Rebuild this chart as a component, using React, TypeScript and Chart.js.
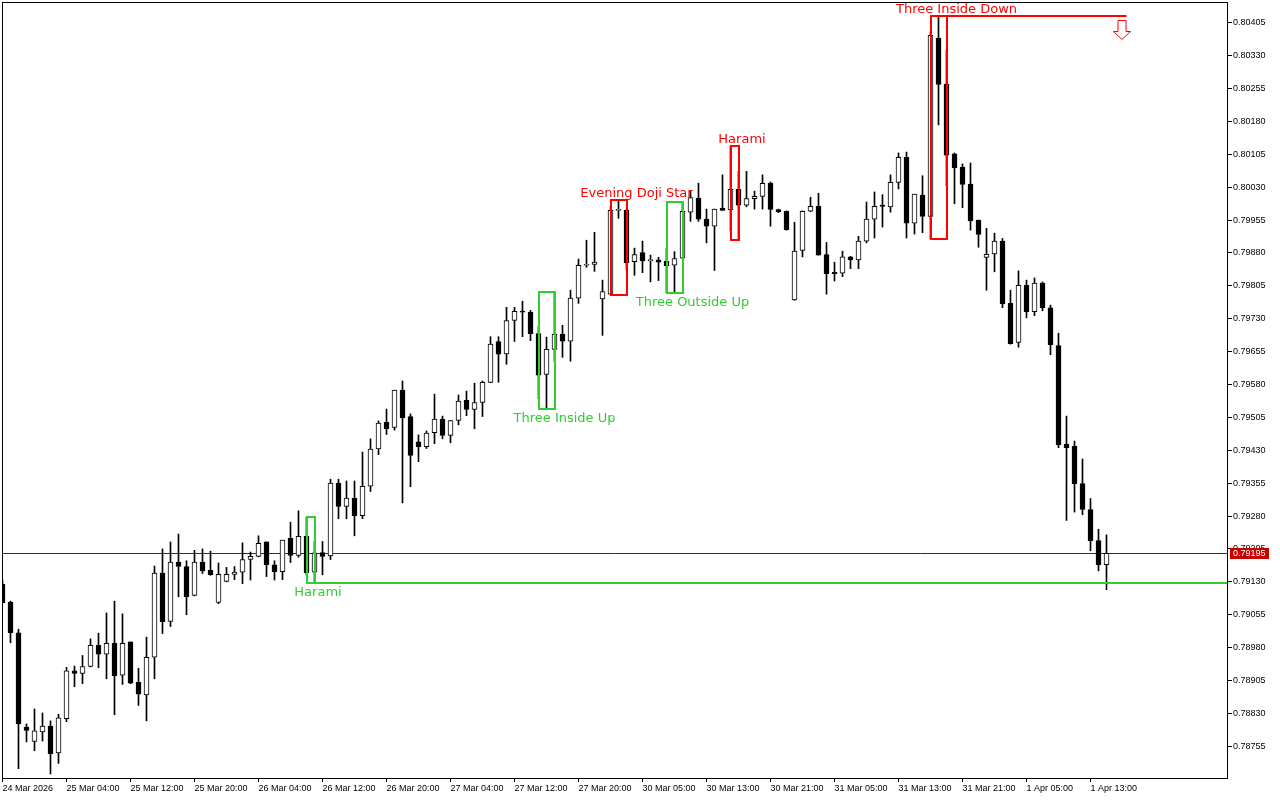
import React, { useEffect, useRef } from "react";
import { Chart, registerables } from "chart.js";

Chart.register(...registerables);

// ---- H1 candles, 24 Mar 20:00 .. 1 Apr 15:00 ----
const opens = [
  0.79125, 0.79084, 0.79014, 0.78799, 0.78766, 0.78788, 0.78801, 0.7874, 0.78818, 0.78927,
  0.78921, 0.78937, 0.78985, 0.78965, 0.7899, 0.78917, 0.78993, 0.78901, 0.78872, 0.78958,
  0.7915, 0.7904, 0.79175, 0.79165, 0.79099, 0.79175, 0.79156, 0.79083, 0.79131, 0.79147,
  0.79152, 0.79181, 0.79188, 0.79221, 0.79169, 0.79153, 0.79229, 0.7919, 0.79234, 0.79152,
  0.79197, 0.79189, 0.79355, 0.79302, 0.79321, 0.79281, 0.79348, 0.79433, 0.79494, 0.79482,
  0.79567, 0.79507, 0.79449, 0.79438, 0.7947, 0.79501, 0.79464, 0.79498, 0.79544, 0.79523,
  0.79539, 0.79585, 0.79678, 0.7965, 0.79726, 0.79747, 0.79745, 0.79696, 0.79603, 0.7966,
  0.79695, 0.79679, 0.79777, 0.79852, 0.79854, 0.79775, 0.79786, 0.79977, 0.79978, 0.7986,
  0.79881, 0.79862, 0.79864, 0.79861, 0.79852, 0.79868, 0.79973, 0.80005, 0.79957, 0.79941,
  0.79982, 0.79978, 0.80025, 0.79989, 0.80004, 0.80009, 0.80039, 0.79979, 0.79975, 0.79773,
  0.79886, 0.79975, 0.79986, 0.79876, 0.79836, 0.79834, 0.79871, 0.79864, 0.79907, 0.79957,
  0.79989, 0.79985, 0.80041, 0.80098, 0.79948, 0.80012, 0.79963, 0.8037, 0.80265, 0.80106,
  0.80075, 0.80037, 0.79955, 0.7987, 0.79878, 0.79907, 0.79765, 0.79676, 0.79806, 0.79746,
  0.79811, 0.79755, 0.79669, 0.79444, 0.79439, 0.79354, 0.79295, 0.79224, 0.79169,
];
const highs = [
  0.79134, 0.79086, 0.79022, 0.78806, 0.7884, 0.78831, 0.78813, 0.78828, 0.78935, 0.78938,
  0.78962, 0.79, 0.79013, 0.79059, 0.79086, 0.79057, 0.78993, 0.78933, 0.79004, 0.79166,
  0.79205, 0.79221, 0.79239, 0.79178, 0.79202, 0.79205, 0.792, 0.79173, 0.79163, 0.79165,
  0.79219, 0.79198, 0.79235, 0.79221, 0.79178, 0.79225, 0.79266, 0.79292, 0.79277, 0.79222,
  0.79222, 0.79364, 0.79364, 0.7936, 0.7936, 0.79426, 0.79456, 0.79497, 0.79524, 0.79567,
  0.79588, 0.79513, 0.79465, 0.79474, 0.79558, 0.79508, 0.79498, 0.79556, 0.79565, 0.79583,
  0.79588, 0.79689, 0.79689, 0.79756, 0.79756, 0.7977, 0.79749, 0.79712, 0.79688, 0.79792,
  0.79715, 0.79795, 0.79866, 0.79909, 0.79927, 0.79818, 0.79985, 0.80001, 0.79979, 0.79891,
  0.79907, 0.79875, 0.7987, 0.79891, 0.79883, 0.79997, 0.80022, 0.80039, 0.7998, 0.7998,
  0.80058, 0.80124, 0.80066, 0.80066, 0.80021, 0.80058, 0.80042, 0.7998, 0.79976, 0.7995,
  0.79976, 0.80007, 0.80016, 0.79904, 0.79859, 0.79884, 0.79872, 0.79918, 0.79996, 0.80019,
  0.80013, 0.80058, 0.80108, 0.8011, 0.80014, 0.80056, 0.80384, 0.80421, 0.80343, 0.80108,
  0.80083, 0.80085, 0.79955, 0.79936, 0.79925, 0.79913, 0.79795, 0.79839, 0.79818, 0.79823,
  0.79814, 0.79761, 0.79697, 0.79508, 0.79451, 0.7941, 0.7932, 0.7925, 0.79237,
];
const lows = [
  0.79082, 0.78991, 0.78704, 0.78765, 0.78745, 0.78767, 0.78692, 0.78716, 0.78811, 0.78891,
  0.78898, 0.78936, 0.78934, 0.78909, 0.78827, 0.78896, 0.78898, 0.78848, 0.78813, 0.78909,
  0.79012, 0.79028, 0.79096, 0.79055, 0.79098, 0.79149, 0.79145, 0.7908, 0.7913, 0.79135,
  0.79126, 0.79134, 0.79187, 0.79142, 0.79134, 0.79135, 0.79174, 0.79186, 0.79145, 0.79128,
  0.79146, 0.79181, 0.79274, 0.79274, 0.79235, 0.79274, 0.79336, 0.7942, 0.79466, 0.79476,
  0.7931, 0.79347, 0.79404, 0.79434, 0.79445, 0.79456, 0.79447, 0.79488, 0.79509, 0.79479,
  0.79507, 0.79584, 0.79585, 0.79626, 0.79678, 0.79689, 0.7968, 0.79548, 0.79523, 0.79633,
  0.79642, 0.79633, 0.79765, 0.79847, 0.79838, 0.79692, 0.79785, 0.79959, 0.79841, 0.79829,
  0.79835, 0.79814, 0.79817, 0.79789, 0.7979, 0.79867, 0.79952, 0.79952, 0.79903, 0.7984,
  0.79977, 0.7993, 0.7991, 0.79985, 0.7998, 0.7998, 0.79941, 0.79972, 0.79932, 0.79772,
  0.79871, 0.79974, 0.79875, 0.79786, 0.79816, 0.79826, 0.79844, 0.79844, 0.79903, 0.79914,
  0.79939, 0.79973, 0.80026, 0.79914, 0.79923, 0.79926, 0.79912, 0.80172, 0.80033, 0.79992,
  0.79983, 0.79932, 0.79893, 0.79795, 0.79837, 0.79755, 0.79672, 0.79665, 0.79732, 0.79737,
  0.79748, 0.79648, 0.79436, 0.7927, 0.79289, 0.79283, 0.79201, 0.79155, 0.79112,
];
const closes = [
  0.79082, 0.79014, 0.78806, 0.78791, 0.7879, 0.78801, 0.78738, 0.7882, 0.78927, 0.78921,
  0.78937, 0.78985, 0.78965, 0.7899, 0.78916, 0.7899, 0.78899, 0.78874, 0.78958, 0.7915,
  0.79039, 0.79175, 0.79165, 0.79096, 0.79175, 0.79155, 0.79146, 0.79147, 0.79147, 0.79152,
  0.79181, 0.79188, 0.79218, 0.79169, 0.79153, 0.79225, 0.7919, 0.79234, 0.79151, 0.79196,
  0.79188, 0.79355, 0.79302, 0.79321, 0.79281, 0.79348, 0.79433, 0.79492, 0.79479, 0.79567,
  0.79504, 0.79418, 0.79438, 0.79469, 0.79501, 0.79464, 0.79498, 0.79542, 0.79523, 0.79539,
  0.79585, 0.79672, 0.79649, 0.79726, 0.79747, 0.79745, 0.79696, 0.79601, 0.7966, 0.79695,
  0.79679, 0.79777, 0.79852, 0.79854, 0.79859, 0.79792, 0.79977, 0.79978, 0.79858, 0.79876,
  0.79862, 0.79865, 0.79859, 0.79851, 0.79867, 0.79975, 0.80006, 0.79957, 0.79941, 0.7998,
  0.79977, 0.80025, 0.79989, 0.80004, 0.80009, 0.80039, 0.79979, 0.79974, 0.79933, 0.79884,
  0.79975, 0.79986, 0.79875, 0.79833, 0.79833, 0.79871, 0.79864, 0.79907, 0.79957, 0.79986,
  0.79986, 0.80041, 0.80098, 0.79948, 0.80014, 0.79963, 0.80376, 0.80264, 0.80103, 0.80074,
  0.80036, 0.79953, 0.79922, 0.79877, 0.79907, 0.79764, 0.79673, 0.79806, 0.79746, 0.79811,
  0.79755, 0.79671, 0.79443, 0.79436, 0.79354, 0.79295, 0.79224, 0.79169, 0.79195,
];

// ---- time axis ----
const xTickIndex = [0, 8, 16, 24, 32, 40, 48, 56, 64, 72, 80, 88, 96, 104, 112, 120, 128, 136];
const xTickLabels = [
  "24 Mar 2026", "25 Mar 04:00", "25 Mar 12:00", "25 Mar 20:00", "26 Mar 04:00", "26 Mar 12:00",
  "26 Mar 20:00", "27 Mar 04:00", "27 Mar 12:00", "27 Mar 20:00", "30 Mar 05:00", "30 Mar 13:00",
  "30 Mar 21:00", "31 Mar 05:00", "31 Mar 13:00", "31 Mar 21:00", "1 Apr 05:00", "1 Apr 13:00",
];

// ---- price axis ----
const yTickLabels = [
  "0.80405", "0.80330", "0.80255", "0.80180", "0.80105", "0.80030", "0.79955", "0.79880",
  "0.79805", "0.79730", "0.79655", "0.79580", "0.79505", "0.79430", "0.79355", "0.79280",
  "0.79205", "0.79130", "0.79055", "0.78980", "0.78905", "0.78830", "0.78755",
];

// ---- candlestick patterns ----
const patternNames = ["Harami", "Three Inside Up", "Evening Doji Star", "Three Outside Up", "Harami", "Three Inside Down"];
const patternStart = [38, 67, 76, 83, 91, 116];
const patternEnd = [39, 69, 78, 85, 92, 118];
const patternBullish = [true, true, false, true, false, false];

// signal levels (extended box edges) and the sell arrow
const levelPattern = [0, 5];
const levelEnd: (number | null)[] = [null, 140.5];
const arrowPattern = 5;
const arrowIndex = 140;

const X_MIN = -0.0625;
const X_MAX = 153.0625;
const Y_MIN = 0.786827;
const Y_MAX = 0.804522;

const GREEN = "#32cd32";
const RED = "#ff0000";
const BID = "#a00000";
const AXIS_FONT = "Liberation Sans";

function patternBox(p: number) {
  let hi = -Infinity;
  let lo = Infinity;
  for (let i = patternStart[p]; i <= patternEnd[p]; i++) {
    hi = Math.max(hi, highs[i]);
    lo = Math.min(lo, lows[i]);
  }
  return { hi, lo };
}

const overlayPlugin = {
  id: "overlay",
  beforeDraw(chart: any) {
    const ctx = chart.ctx;
    ctx.save();
    ctx.fillStyle = "#ffffff";
    ctx.fillRect(0, 0, chart.width, chart.height);
    ctx.restore();
  },
  beforeDatasetsDraw(chart: any) {
    const { ctx, chartArea: a, scales } = chart;
    const by = Math.round(scales.y.getPixelForValue(closes[closes.length - 1])) + 0.5;
    ctx.save();
    ctx.strokeStyle = BID;
    ctx.lineWidth = 1;
    ctx.beginPath();
    ctx.moveTo(a.left, by);
    ctx.lineTo(a.right, by);
    ctx.stroke();
    ctx.restore();
  },
  afterDatasetsDraw(chart: any) {
    const { ctx, chartArea: a, scales } = chart;
    const xs = scales.x;
    const ys = scales.y;
    ctx.save();
    patternNames.forEach((name, p) => {
      const s = patternStart[p];
      const e = patternEnd[p];
      const { hi, lo } = patternBox(p);
      const x1 = Math.round(xs.getPixelForValue(s));
      const x2 = Math.round(xs.getPixelForValue(e));
      const yT = Math.round(ys.getPixelForValue(hi));
      const yB = Math.round(ys.getPixelForValue(lo));
      const col = patternBullish[p] ? GREEN : RED;
      ctx.strokeStyle = col;
      ctx.lineWidth = 2;
      ctx.strokeRect(x1, yT, x2 - x1, yB - yT);
      const li = levelPattern.indexOf(p);
      if (li >= 0) {
        const endV = levelEnd[li];
        const endX = endV === null ? a.right : xs.getPixelForValue(endV);
        const ly = patternBullish[p] ? yB : yT;
        ctx.beginPath();
        ctx.moveTo(x1, ly);
        ctx.lineTo(endX, ly);
        ctx.stroke();
      }
      const n = e - s + 1;
      const cx = xs.getPixelForValue(s) + (n >= 3 ? 26 : 11.5);
      const ty = patternBullish[p] ? yB + 13 : yT - 3;
      ctx.fillStyle = col;
      ctx.font = '13px "DejaVu Sans"';
      ctx.textAlign = "center";
      ctx.textBaseline = "alphabetic";
      ctx.fillText(name, cx, ty);
    });

    // sell arrow
    const { hi } = patternBox(arrowPattern);
    const top = Math.round(ys.getPixelForValue(hi)) + 4.5;
    const cx = Math.round(xs.getPixelForValue(arrowIndex)) - 1;
    const hy = top + 11;
    const tip = top + 19;
    ctx.beginPath();
    ctx.moveTo(cx - 4, top);
    ctx.lineTo(cx + 4, top);
    ctx.lineTo(cx + 4, hy);
    ctx.lineTo(cx + 8.5, hy);
    ctx.lineTo(cx, tip);
    ctx.lineTo(cx - 8.5, hy);
    ctx.lineTo(cx - 4, hy);
    ctx.closePath();
    ctx.fillStyle = "#ffffff";
    ctx.fill();
    ctx.strokeStyle = RED;
    ctx.lineWidth = 1;
    ctx.stroke();
    ctx.restore();
  },
  afterDraw(chart: any) {
    const { ctx, chartArea: a, scales } = chart;
    ctx.save();
    ctx.strokeStyle = "#000000";
    ctx.lineWidth = 1;
    ctx.strokeRect(a.left + 0.5, a.top + 0.5, a.right - a.left, a.bottom - a.top);
    const last = closes[closes.length - 1];
    const by = Math.round(scales.y.getPixelForValue(last));
    ctx.fillStyle = "#c80000";
    ctx.fillRect(a.right + 3, by - 5, 39, 11);
    ctx.fillStyle = "#ffffff";
    ctx.font = `9px "${AXIS_FONT}"`;
    ctx.textAlign = "left";
    ctx.textBaseline = "middle";
    ctx.fillText(last.toFixed(5), a.right + 6, by + 0.5);
    ctx.restore();
  },
};

export default function App() {
  const ref = useRef<HTMLCanvasElement>(null);

  useEffect(() => {
    document.body.style.margin = "0";
    const canvas = ref.current;
    if (!canvas) return;
    const idx = opens.map((_, i) => i);
    const wickData = idx.map((i) => ({ x: i, y: [lows[i], highs[i]] }));
    const bodyData = idx.map((i) => ({ x: i, y: [opens[i], closes[i]] }));
    const bodyColors = idx.map((i) => (closes[i] >= opens[i] ? "#ffffff" : "#000000"));

    const chart = new Chart(canvas, {
      type: "bar",
      data: {
        datasets: [
          {
            data: wickData as any,
            backgroundColor: "#000000",
            borderWidth: 0,
            barThickness: 1,
            grouped: false,
            order: 2,
            clip: 0,
          } as any,
          {
            data: bodyData as any,
            backgroundColor: bodyColors,
            borderColor: "#000000",
            borderWidth: 1,
            borderSkipped: false,
            barThickness: 5,
            minBarLength: 1,
            grouped: false,
            order: 1,
            clip: 0,
          } as any,
        ],
      },
      options: {
        responsive: false,
        devicePixelRatio: 1,
        animation: false,
        events: [],
        layout: { padding: { left: 2, top: 2, right: 0, bottom: 0 } },
        plugins: { legend: { display: false }, tooltip: { enabled: false } },
        scales: {
          x: {
            type: "linear",
            min: X_MIN,
            max: X_MAX,
            bounds: "data",
            offset: false,
            grid: {
              offset: false,
              drawOnChartArea: false,
              drawTicks: true,
              tickLength: 4,
              color: "#000000",
              lineWidth: 1,
            },
            border: { display: false },
            ticks: {
              autoSkip: false,
              maxRotation: 0,
              minRotation: 0,
              align: "start",
              padding: 1,
              color: "#000000",
              font: { family: AXIS_FONT, size: 9 },
              callback: (v: any) => {
                const k = xTickIndex.indexOf(Number(v));
                return k >= 0 ? xTickLabels[k] : "";
              },
            },
            afterBuildTicks: (scale: any) => {
              scale.ticks = xTickIndex.map((v) => ({ value: v }));
            },
            afterFit: (scale: any) => {
              scale.height = 22;
              scale.paddingLeft = 0;
              scale.paddingRight = 0;
              scale.paddingTop = 0;
              scale.paddingBottom = 0;
            },
          } as any,
          y: {
            type: "linear",
            position: "right",
            min: Y_MIN,
            max: Y_MAX,
            bounds: "data",
            beginAtZero: false,
            grid: {
              drawOnChartArea: false,
              drawTicks: true,
              tickLength: 5,
              color: "#000000",
              lineWidth: 1,
            },
            border: { display: false },
            ticks: {
              autoSkip: false,
              padding: 1,
              color: "#000000",
              font: { family: AXIS_FONT, size: 9 },
              callback: (_v: any, i: number) => yTickLabels[i],
            },
            afterBuildTicks: (scale: any) => {
              scale.ticks = yTickLabels.map((s) => ({ value: parseFloat(s) }));
            },
            afterFit: (scale: any) => {
              scale.width = 53;
              scale.paddingLeft = 0;
              scale.paddingRight = 0;
              scale.paddingTop = 0;
              scale.paddingBottom = 0;
            },
          } as any,
        },
      },
      plugins: [overlayPlugin as any],
    });
    return () => chart.destroy();
  }, []);

  return (
    <div style={{ position: "absolute", left: 0, top: 0, width: 1280, height: 800 }}>
      <canvas ref={ref} width={1280} height={800} style={{ width: 1280, height: 800, display: "block" }} />
    </div>
  );
}
